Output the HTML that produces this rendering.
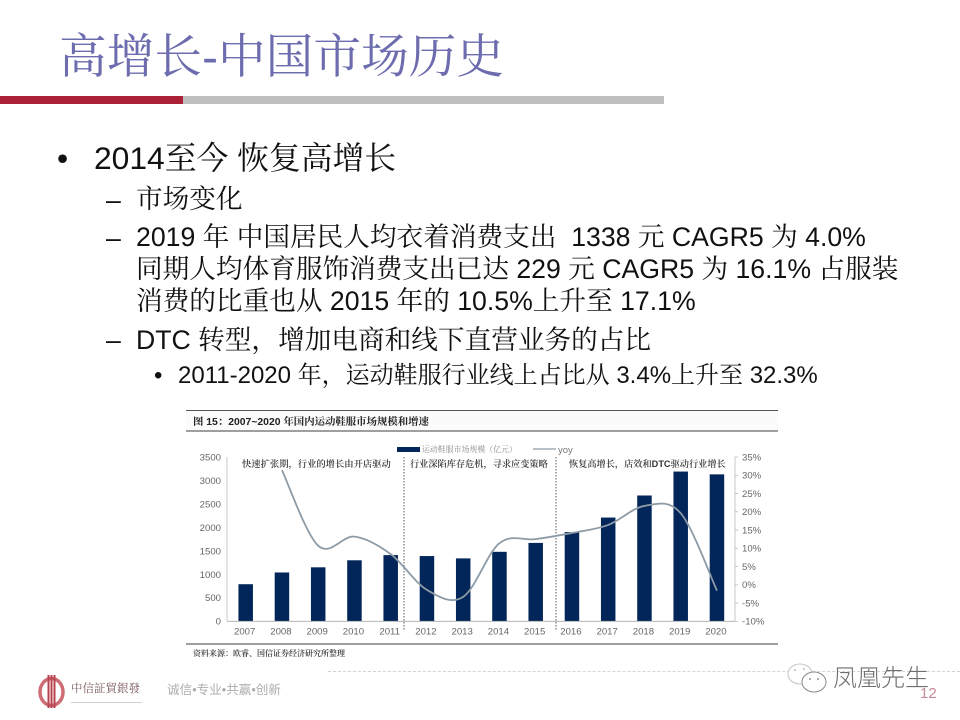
<!DOCTYPE html>
<html lang="zh">
<head>
<meta charset="utf-8">
<title>高增长-中国市场历史</title>
<style>
html,body{margin:0;padding:0;background:#fff;}
#slide{position:relative;width:960px;height:720px;overflow:hidden;background:#fff;font-family:"Liberation Sans","Noto Serif CJK SC",serif;color:#111;}
.t{position:absolute;white-space:nowrap;line-height:1;}
.bar-h{position:absolute;}
.l1{font-size:31.8px;}
.l2{font-size:26.65px;}
.l3{font-size:24px;}
#chart{position:absolute;left:0;top:0;filter:blur(0.35px);}
</style>
</head>
<body>
<div id="slide">
  <div class="t" style="left:59px;top:34px;font-size:47.7px;color:#6c6cae;">高增长-中国市场历史</div>
  <div class="bar-h" style="left:0;top:96px;width:183px;height:8px;background:#ab2237;"></div>
  <div class="bar-h" style="left:183px;top:96px;width:481px;height:8px;background:#bfbfbf;"></div>

  <div class="t l1" style="left:57px;top:143px;">•</div>
  <div class="t l1" style="left:94px;top:143px;">2014至今 恢复高增长</div>

  <div class="t l2" style="left:106px;top:187px;">–</div>
  <div class="t l2" style="left:136px;top:186px;">市场变化</div>
  <div class="t l2" style="left:106px;top:225px;">–</div>
  <div class="t l2" style="left:136px;top:224px;">2019 年 中国居民人均衣着消费支出&nbsp; 1338 元 CAGR5 为 4.0%</div>
  <div class="t l2" style="left:136px;top:256px;">同期人均体育服饰消费支出已达 229 元 CAGR5 为 16.1% 占服装</div>
  <div class="t l2" style="left:136px;top:288px;">消费的比重也从 2015 年的 10.5%上升至 17.1%</div>
  <div class="t l2" style="left:106px;top:327px;">–</div>
  <div class="t l2" style="left:136px;top:327px;">DTC 转型，增加电商和线下直营业务的占比</div>
  <div class="t l3" style="left:154px;top:364px;">•</div>
  <div class="t l3" style="left:178px;top:364px;">2011-2020 年，运动鞋服行业线上占比从 3.4%上升至 32.3%</div>

  <svg id="chart" width="960" height="720" viewBox="0 0 960 720" xmlns="http://www.w3.org/2000/svg">
    <g id="frame" font-family="'Liberation Sans','Noto Serif CJK SC',serif">
      <rect x="186" y="411" width="592" height="20" fill="#fbfbfb"/>
      <line x1="186" x2="778" y1="410.5" y2="410.5" stroke="#555" stroke-width="1"/>
      <line x1="186" x2="778" y1="431" y2="431" stroke="#666" stroke-width="1.2"/>
      <line x1="186" x2="778" y1="644" y2="644" stroke="#666" stroke-width="1.2"/>
      <text x="193" y="425" font-size="10.4" font-weight="700" fill="#222">图 15：2007~2020 年国内运动鞋服市场规模和增速</text>
      <text x="193" y="656" font-size="8" font-weight="600" fill="#333">资料来源：欧睿、国信证券经济研究所整理</text>
      <rect x="397" y="447" width="23" height="5" fill="#03265a"/>
      <text x="422" y="452" font-size="7.9" letter-spacing="0.1" fill="#8a8a8a" textLength="95">运动鞋服市场规模（亿元）</text>
      <line x1="533" x2="556" y1="449" y2="449" stroke="#8d9ba6" stroke-width="1.3"/>
      <text x="558" y="453" font-size="9.5" fill="#777">yoy</text>
      <text x="242" y="467" font-size="9.3" font-weight="600" fill="#333">快速扩张期，行业的增长由开店驱动</text>
      <text x="410" y="467" font-size="9.2" font-weight="600" fill="#333">行业深陷库存危机，寻求应变策略</text>
      <text x="569" y="467" font-size="9.2" font-weight="600" fill="#333">恢复高增长，店效和DTC驱动行业增长</text>
      <line x1="404" x2="404" y1="457" y2="630" stroke="#444" stroke-width="0.9" stroke-dasharray="1.5 1.5"/>
      <line x1="556" x2="556" y1="457" y2="630" stroke="#444" stroke-width="0.9" stroke-dasharray="1.5 1.5"/>
    </g>
    <g id="plot" font-family="'Liberation Sans',sans-serif"></g>
  </svg>

  <svg style="position:absolute;left:36px;top:674px;" width="32" height="36" viewBox="0 0 32 36" xmlns="http://www.w3.org/2000/svg">
    <ellipse cx="15.5" cy="18" rx="11.5" ry="13.5" fill="none" stroke="#cf6d75" stroke-width="3.5"/>
    <rect x="11.5" y="1" width="2" height="33" fill="#b8434f"/>
    <rect x="14.5" y="1" width="2" height="33" fill="#b8434f"/>
    <rect x="17.5" y="1" width="2" height="33" fill="#b8434f"/>
  </svg>
  <div class="t" style="left:71px;top:684px;font-size:11.5px;color:#7c5a5c;">中信証貿銀發</div>
  <div class="bar-h" style="left:71px;top:702px;width:71px;height:1px;background:#cfcfcf;"></div>
  <div class="t" style="left:167px;top:684px;font-size:12.6px;font-family:'Liberation Sans','Noto Sans CJK SC',sans-serif;color:#adadad;">诚信•专业•共赢•创新</div>
  <div class="bar-h" style="left:328px;top:671px;width:632px;height:0;border-top:1px dashed #d4d4d4;"></div>

  <svg style="position:absolute;left:785px;top:662px;" width="44" height="34" viewBox="0 0 44 34" xmlns="http://www.w3.org/2000/svg">
    <ellipse cx="15" cy="12" rx="12" ry="10" fill="#fff" stroke="#c4c4c4" stroke-width="1"/>
    <ellipse cx="29" cy="20" rx="12" ry="10" fill="#fff" stroke="#8a8a8a" stroke-width="1"/>
    <circle cx="25" cy="17" r="0.9" fill="#777"/><circle cx="33" cy="17" r="0.9" fill="#777"/>
    <circle cx="10" cy="8" r="0.9" fill="#aaa"/><circle cx="19" cy="7" r="0.9" fill="#aaa"/>
  </svg>
  <div class="t" style="left:833px;top:667px;font-size:24px;color:#6e6e6e;font-family:'Liberation Sans','Noto Sans CJK SC',sans-serif;font-weight:300;">凤凰先生</div>
  <div class="t" style="left:920px;top:686px;font-size:15px;color:#c58a97;">12</div>
</div>

<script>
var years = ['2007','2008','2009','2010','2011','2012','2013','2014','2015','2016','2017','2018','2019','2020'];
var marketSize = [790,1040,1150,1300,1410,1390,1340,1480,1670,1900,2210,2680,3190,3130];
var yoyYears = ['2008','2009','2010','2011','2012','2013','2014','2015','2016','2017','2018','2019','2020'];
var yoyValues = [31.4,10.7,13.2,8.4,-1.4,-3.3,11.4,12.5,14.2,16.4,21.6,19.6,-1.6];
var leftTicks = [0,500,1000,1500,2000,2500,3000,3500];
var rightTicks = [-10,-5,0,5,10,15,20,25,30,35];

var NS = 'http://www.w3.org/2000/svg';
var plot = document.getElementById('plot');
var axisTop = 457, axisBottom = 621.3, firstCenter = 245.7, step = 36.25;

function xScale(i){ return firstCenter + i * step; }
function yLeft(v){ return axisBottom - (v / 3500) * (axisBottom - axisTop); }
function yRight(v){ return axisBottom - ((v + 10) / 45) * (axisBottom - axisTop); }
function make(tag, attrs){
  var el = document.createElementNS(NS, tag);
  for (var k in attrs) el.setAttribute(k, attrs[k]);
  plot.appendChild(el);
  return el;
}

var barWidth = 14.5;
marketSize.forEach(function(v, i){
  var bar = make('rect', {x: xScale(i) - barWidth / 2, y: yLeft(v), width: barWidth, height: axisBottom - yLeft(v), fill: '#03265a'});
  
  
});

var pts = yoyYears.map(function(y, i){ return [xScale(years.indexOf(y)), yRight(yoyValues[i])]; });
var d = 'M' + pts[0][0] + ' ' + pts[0][1];
for (var i = 0; i < pts.length - 1; i++) {
  var p0 = pts[Math.max(0, i - 1)], p1 = pts[i], p2 = pts[i + 1], p3 = pts[Math.min(pts.length - 1, i + 2)];
  d += ' C' + (p1[0] + (p2[0] - p0[0]) / 6) + ' ' + (p1[1] + (p2[1] - p0[1]) / 6) + ' ' +
       (p2[0] - (p3[0] - p1[0]) / 6) + ' ' + (p2[1] - (p3[1] - p1[1]) / 6) + ' ' + p2[0] + ' ' + p2[1];
}
var yoyLine = make('path', {d: d, fill: 'none', stroke: '#8d9ba6', 'stroke-width': 1.8});



var leftAxis = make('line', {x1: 227, x2: 227, y1: axisTop, y2: axisBottom, stroke: '#bbb', 'stroke-width': 0.8});


var rightAxis = make('line', {x1: 735, x2: 735, y1: axisTop, y2: axisBottom, stroke: '#bbb', 'stroke-width': 0.8});


var xAxis = make('line', {x1: 227, x2: 735, y1: axisBottom, y2: axisBottom, stroke: '#aaa', 'stroke-width': 0.8});



function addText(str, x, y, anchor, name){
  var t = make('text', {x: x, y: y, 'text-anchor': anchor, 'font-size': 9.6, fill: '#666'});
  t.textContent = str;
  
  
}
leftTicks.forEach(function(v){
  addText(String(v), 221, yLeft(v) + 3.4, 'end', 'left-tick-' + v);
});
rightTicks.forEach(function(v){
  addText(v + '%', 742, yRight(v) + 3.4, 'start', 'right-tick-' + v);
  var tick = make('line', {x1: 735, x2: 738, y1: yRight(v), y2: yRight(v), stroke: '#bbb', 'stroke-width': 0.8});
  
  
});
years.forEach(function(y, i){
  addText(y, xScale(i) - 1, 634.5, 'middle', 'x-label-' + y);
});
</script>
</body>
</html>
